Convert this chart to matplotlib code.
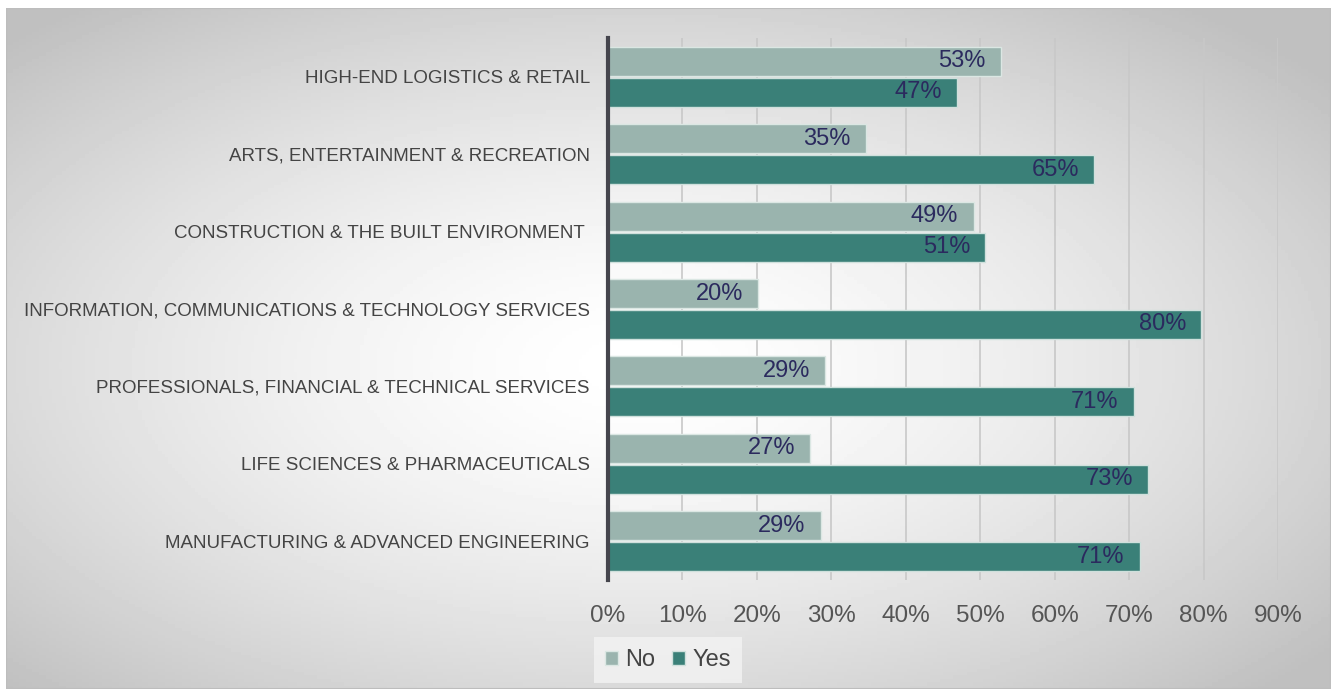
import numpy as np
import matplotlib.pyplot as plt
from matplotlib.patches import Rectangle

plt.rcParams['font.family'] = ['Liberation Sans', 'DejaVu Sans']

# --- data ---
categories = [
    'HIGH-END LOGISTICS & RETAIL',
    'ARTS, ENTERTAINMENT & RECREATION',
    'CONSTRUCTION & THE BUILT ENVIRONMENT ',
    'INFORMATION, COMMUNICATIONS & TECHNOLOGY SERVICES',
    'PROFESSIONALS, FINANCIAL & TECHNICAL SERVICES',
    'LIFE SCIENCES & PHARMACEUTICALS',
    'MANUFACTURING & ADVANCED ENGINEERING',
]
no_vals = [52.8, 34.6, 49.1, 20.2, 29.2, 27.2, 28.6]
yes_vals = [46.9, 65.3, 50.7, 79.7, 70.6, 72.6, 71.4]
xticks = [0, 10, 20, 30, 40, 50, 60, 70, 80, 90]

c_no = '#9ab4ae'
c_yes = '#3a8078'
c_lab = '#2b2a5e'

fig = plt.figure(figsize=(13.33, 6.89), dpi=100)

# gradient panel background
bg = fig.add_axes([6 / 1333, 0, (1331 - 6) / 1333, (689 - 8) / 689], zorder=-5)
gx, gy = np.meshgrid(np.linspace(-1, 1, 400), np.linspace(-1, 1, 200))
r = np.sqrt(((gx + 0.05) / 1.1) ** 2 + ((gy - 0.05) / 1.1) ** 2) / np.sqrt(2) * 1.15
r = np.clip(r, 0, 1)
val = 1.0 - 0.25 * r ** 1.5
bg.imshow(val, cmap='gray', vmin=0, vmax=1, aspect='auto', extent=[0, 1, 0, 1])
bg.add_patch(Rectangle((0, 0), 1, 1, transform=bg.transAxes, fill=False,
                       edgecolor='#bdbdbd', lw=1.5))
bg.set_axis_off()

ax = fig.add_axes([608 / 1333, 1 - 580 / 689, (1278 - 608) / 1333, (580 - 38) / 689])
ax.set_facecolor('none')

y = np.arange(len(categories))
h = 0.375
b_no = ax.barh(y - 0.2, no_vals, height=h, color=c_no, edgecolor='#dbe7e3', lw=1, zorder=3, label='No')
b_yes = ax.barh(y + 0.2, yes_vals, height=h, color=c_yes, edgecolor='#cfe0dc', lw=1, zorder=3, label='Yes')

for bars, vals in [(b_no, no_vals), (b_yes, yes_vals)]:
    for bar, v in zip(bars, vals):
        ax.annotate(f'{v:.0f}%', (bar.get_width(), bar.get_y() + bar.get_height() / 2),
                    xytext=(-11, 0), textcoords='offset points', ha='right', va='center',
                    fontsize=17, color=c_lab, zorder=4)

ax.set_ylim(6.5, -0.5)
ax.set_xlim(0, 90)
ax.set_xticks(xticks)
ax.set_xticklabels([f'{t}%' for t in xticks], fontsize=17.5, color='#555555')
ax.set_yticks(y)
ax.set_yticklabels(categories, fontsize=13.5, color='#444444')
ax.tick_params(axis='y', length=0, pad=13)
ax.tick_params(axis='x', length=0, pad=18)
for t in xticks[1:]:
    ax.axvline(t, color='#c8c8c8', lw=1.2, zorder=1)
for s in ['top', 'right', 'bottom']:
    ax.spines[s].set_visible(False)
ax.spines['left'].set_color('#45454d')
ax.spines['left'].set_linewidth(3)
ax.spines['left'].set_zorder(5)

leg = fig.legend(handles=[b_no, b_yes], labels=['No', 'Yes'], loc='center',
                 bbox_to_anchor=(668 / 1333, 1 - 660 / 689), ncol=2, fontsize=17,
                 frameon=True, fancybox=False, handlelength=0.55, handleheight=0.55,
                 handletextpad=0.3, columnspacing=0.7, borderpad=0.5)
leg.get_frame().set_facecolor('#f3f3f3')
leg.get_frame().set_edgecolor('none')
for t in leg.get_texts():
    t.set_color('#444444')

fig.savefig('out.png', dpi=100)
